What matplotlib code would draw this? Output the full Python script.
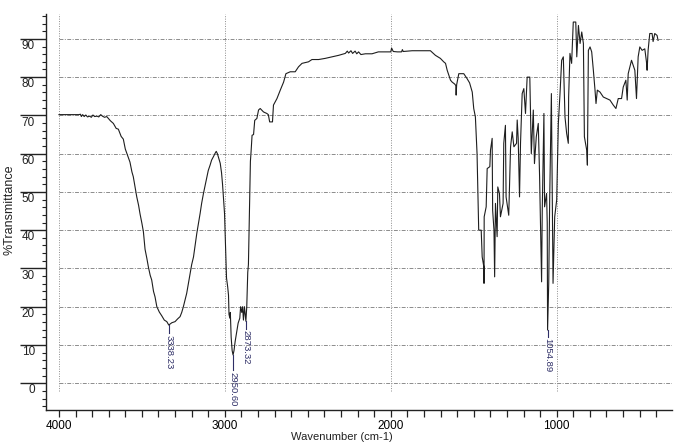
import numpy as np
import matplotlib
matplotlib.use("Agg")
import matplotlib.pyplot as plt
from matplotlib.ticker import MultipleLocator, FixedLocator

plt.rcParams['font.family'] = ['Liberation Sans', 'DejaVu Sans']

# IR spectrum (wavenumber cm-1, %T)
wavenumber = [
    4000, 3880, 3870, 3865, 3857, 3848, 3838, 3828, 3815, 3805, 3795, 3785, 3770, 3760,
    3748, 3738, 3725, 3712, 3702, 3690, 3672, 3655, 3642, 3625, 3612, 3600, 3590, 3572,
    3560, 3552, 3540, 3531, 3520, 3511, 3500, 3491, 3481, 3470, 3461, 3450, 3441, 3430,
    3421, 3410, 3395, 3380, 3365, 3350, 3338, 3320, 3300, 3285, 3270, 3260, 3250, 3240,
    3230, 3220, 3209, 3200, 3189, 3180, 3169, 3160, 3149, 3140, 3129, 3120, 3109, 3100,
    3089, 3080, 3069, 3060, 3052, 3045, 3036, 3028, 3020, 3014, 3008, 3002, 2996, 2990,
    2983, 2978, 2975, 2970, 2967, 2962, 2956, 2950.6, 2945, 2938, 2930, 2920, 2910, 2905,
    2898, 2893, 2888, 2882, 2873.3, 2868, 2862, 2858, 2852, 2846, 2842, 2836, 2827, 2820,
    2807, 2797, 2787, 2767, 2747, 2738, 2730, 2713, 2707, 2686, 2666, 2646, 2632, 2606,
    2576, 2556, 2535, 2496, 2475, 2435, 2395, 2354, 2314, 2274, 2262, 2254, 2240, 2230,
    2215, 2205, 2194, 2180, 2153, 2113, 2075, 2052, 2000, 1995, 1985, 1960, 1935, 1930,
    1925, 1871, 1761, 1731, 1701, 1681, 1670, 1660, 1650, 1640, 1630, 1615, 1608, 1606,
    1603, 1590, 1560, 1540, 1525, 1509, 1500, 1490, 1480, 1470, 1455, 1449, 1439, 1438,
    1437, 1425, 1419, 1403, 1399, 1389, 1386, 1378, 1374, 1369, 1359, 1355, 1345, 1339,
    1323, 1319, 1309, 1305, 1289, 1284, 1278, 1268, 1258, 1242, 1238, 1232, 1224, 1218,
    1208, 1198, 1188, 1178, 1162, 1158, 1153, 1141, 1134, 1123, 1111, 1103, 1091, 1087,
    1077, 1073, 1061, 1057, 1054.9, 1048, 1042, 1032, 1022, 1012, 1000, 990, 980, 970,
    960, 950, 940, 930, 928, 920, 910, 900, 885, 879, 869, 859, 849, 839,
    833, 819, 815, 809, 799, 789, 779, 769, 763, 755, 739, 719, 699, 679,
    659, 643, 629, 609, 599, 583, 575, 569, 549, 529, 519, 509, 499, 485,
    469, 459, 455, 449, 439, 425, 419, 409, 395, 389,
]
transmittance = [
    70.2, 70.2, 70.3, 69.7, 70.2, 69.7, 70.1, 69.6, 69.8, 69.5, 70.1, 69.7, 69.8, 69.6,
    70.2, 69.8, 69.5, 69.7, 69.2, 68.6, 67.9, 66.6, 66.4, 64.5, 63.8, 61.2, 60.0, 57.8,
    55.2, 54.0, 51.0, 48.7, 46.5, 44.2, 41.8, 39.6, 35.0, 32.6, 30.4, 28.2, 27.0, 24.0,
    22.6, 20.0, 18.6, 17.6, 16.5, 16.1, 15.2, 15.8, 16.1, 16.8, 17.4, 18.5, 20.0, 21.8,
    23.5, 26.0, 28.7, 31.0, 33.0, 35.8, 39.2, 41.5, 44.4, 47.0, 49.6, 51.5, 53.9, 55.6,
    57.0, 58.3, 59.2, 60.0, 60.6, 60.0, 58.7, 57.5, 55.0, 52.0, 48.0, 44.4, 36.0, 27.5,
    25.2, 23.0, 18.0, 17.0, 18.5, 12.0, 8.5, 7.4, 8.5, 10.9, 13.0, 15.7, 17.0, 20.0,
    18.5, 20.0, 16.5, 20.0, 16.2, 20.0, 29.0, 31.0, 45.0, 58.0, 60.5, 64.8, 65.0, 68.7,
    69.2, 71.4, 71.8, 70.9, 70.5, 70.2, 68.3, 68.3, 72.7, 74.4, 76.6, 78.7, 80.9, 81.4,
    81.4, 82.7, 83.6, 84.0, 84.6, 84.6, 84.9, 85.3, 85.7, 86.2, 86.8, 86.3, 86.9, 86.2,
    86.8, 86.1, 86.6, 85.9, 86.1, 86.1, 86.6, 86.6, 86.6, 87.6, 86.7, 86.6, 86.6, 87.2,
    86.7, 86.9, 86.9, 85.7, 84.9, 84.0, 83.6, 81.8, 80.5, 79.2, 78.7, 78.2, 77.8, 75.3,
    78.0, 80.9, 80.9, 79.6, 78.5, 76.1, 71.8, 69.6, 60.0, 40.0, 40.0, 33.0, 30.4, 26.1,
    43.5, 46.1, 56.1, 56.6, 60.9, 64.0, 45.2, 40.0, 27.8, 47.0, 38.3, 51.3, 49.6, 43.5,
    47.0, 62.7, 67.4, 48.7, 43.9, 52.2, 61.8, 65.7, 61.8, 62.7, 68.8, 64.0, 48.7, 62.7,
    75.7, 77.0, 70.5, 80.0, 80.0, 71.4, 60.0, 71.4, 57.4, 64.4, 67.9, 53.9, 26.5, 45.2,
    70.5, 46.1, 49.6, 41.8, 13.9, 26.1, 48.7, 75.7, 26.1, 43.5, 47.9, 67.9, 75.7, 84.4,
    85.3, 69.6, 65.3, 62.7, 74.8, 86.2, 83.6, 94.4, 94.4, 85.3, 93.5, 88.8, 91.8, 88.8,
    64.4, 60.9, 57.0, 87.0, 87.9, 86.6, 81.8, 76.6, 73.1, 76.6, 76.1, 74.8, 74.4, 74.0,
    72.7, 71.8, 74.4, 74.4, 77.4, 79.2, 74.0, 80.9, 84.4, 81.8, 74.4, 85.3, 87.9, 87.0,
    87.4, 84.0, 81.8, 87.0, 91.4, 91.4, 89.3, 91.4, 90.9, 89.6,
]

peak_pos = [3338.23, 2950.60, 2873.32, 1054.89]
peak_val = [15.2, 7.4, 16.2, 13.9]
peak_drop = [2.2, 4.0, 2.0, 1.8]
peak_labels = ['3338.23', '2950.60', '2873.32', '1054.89']

grid_x = [4000, 3000, 2000, 1000]
grid_y = [0, 10, 20, 30, 40, 50, 60, 70, 80, 90]

fig = plt.figure(figsize=(6.86, 4.46), dpi=100)
ax = fig.add_axes([46 / 686, 36 / 446, 626 / 686, 396 / 446])

xmin, xmax = 4078, 305
ymin, ymax = -7, 96.5
ax.set_xlim(xmin, xmax)
ax.set_ylim(ymin, ymax)

# grid drawn only over the data region, like the original
grid_col = '#8c8c8c'
ax.hlines(grid_y, 4000, xmax, colors=grid_col, lw=0.7, linestyles=[(0, (4, 1.5, 1, 1.5))])
ax.vlines(grid_x, -2, ymax, colors=grid_col, lw=0.7, linestyles=[(0, (1, 1.5))])

ax.plot(wavenumber, transmittance, color='#1e1e1e', lw=0.8)

# peak picks
navy = '#2e2e66'
for pos, val, drop, lab in zip(peak_pos, peak_val, peak_drop, peak_labels):
    ax.plot([pos, pos], [val, val - drop], color=navy, lw=0.8)
    ax.text(pos, val - drop - 0.4, lab, rotation=-90, ha='center', va='top',
            fontsize=6.8, color=navy, clip_on=False)

for s in ['top', 'right']:
    ax.spines[s].set_visible(False)
for s in ['left', 'bottom']:
    ax.spines[s].set_linewidth(1.0)
    ax.spines[s].set_color('#222222')

# x ticks: every 100, labels at thousands
ax.xaxis.set_major_locator(FixedLocator(grid_x))
ax.xaxis.set_minor_locator(FixedLocator(np.arange(400, 4001, 100)))
ax.tick_params(axis='x', which='both', direction='out', length=5, width=0.9,
               color='#222222', labelsize=8.5, pad=2)

# y ticks: long majors, labels drawn by hand below the tick line
ax.yaxis.set_major_locator(FixedLocator(grid_y))
ax.yaxis.set_minor_locator(MultipleLocator(2))
ax.tick_params(axis='y', which='major', direction='out', length=19, width=1.0,
               color='#222222', labelleft=False)
ax.tick_params(axis='y', which='minor', direction='out', length=3, width=0.8,
               color='#222222')
ytrans = ax.get_yaxis_transform()
for v in grid_y:
    ax.text(-11 / 626, v - 1.9, str(v), transform=ytrans, ha='right', va='center',
            fontsize=8.5, color='#222222')

fig.text(10 / 686, 1 - 210 / 446, '%Transmittance', rotation=90, ha='center',
         va='center', fontsize=9, color='#222222')
fig.text(342 / 686, 1 - 437 / 446, 'Wavenumber (cm-1)', ha='center', va='center',
         fontsize=8, color='#222222')

fig.savefig('out.png', dpi=100)
